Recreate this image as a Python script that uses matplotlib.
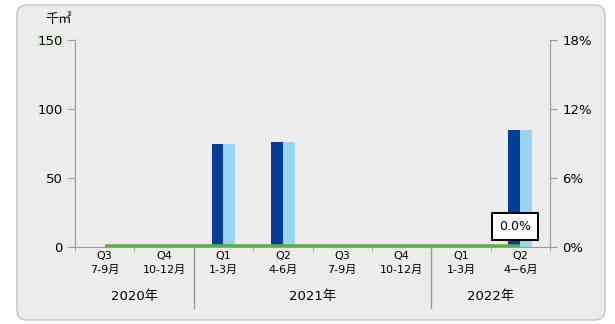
import matplotlib
matplotlib.use("Agg")
from matplotlib import pyplot as plt
from matplotlib.patches import FancyBboxPatch
import matplotlib.transforms as mtransforms
import numpy as np

plt.rcParams['font.family'] = ['DejaVu Sans', 'Noto Sans CJK JP']

# data
quarters = ["Q3\n7-9月", "Q4\n10-12月", "Q1\n1-3月", "Q2\n4-6月",
            "Q3\n7-9月", "Q4\n10-12月", "Q1\n1-3月", "Q2\n4\u22126月"]
years = ["2020年", "2021年", "2022年"]
year_centers = [0.5, 3.5, 6.5]
year_breaks = [1.5, 5.5]
series_a = [0, 0, 75, 76, 0, 0, 0, 85]
series_b = [0, 0, 75, 76, 0, 0, 0, 85]
rate = [0, 0, 0, 0, 0, 0, 0, 0]

dark = '#003e97'
light = '#98d4f1'
green = '#5dab4b'
gray = '#9a9a9a'

fig = plt.figure(figsize=(6.15, 3.24), dpi=100)
fig.patch.set_facecolor('white')
bg = FancyBboxPatch((17 / 615, 4 / 324), 588 / 615, 315 / 324,
                    boxstyle="round,pad=0,rounding_size=0.016",
                    transform=fig.transFigure, facecolor='#ececec',
                    edgecolor='#c4c4c4', linewidth=1.0, mutation_aspect=615 / 324,
                    zorder=-10)
fig.patches.append(bg)

ax = fig.add_axes([75 / 615, 1 - 247 / 324, 475 / 615, 207 / 324])
ax.set_facecolor('none')
x = np.arange(len(quarters))
ax.bar(x - 0.1, series_a, width=0.2, color=dark)
ax.bar(x + 0.1, series_b, width=0.2, color=light)
ax.set_xlim(-0.5, 7.5)
ax.set_ylim(0, 150)
ax.set_yticks([0, 50, 100, 150])
ax.set_xticks(x)
ax.set_xticklabels(quarters, fontsize=8, linespacing=1.5)
ax.set_xticks(np.arange(-0.5, 8, 1), minor=True)
ax.tick_params(axis='x', which='major', length=0, pad=3)
ax.tick_params(axis='x', which='minor', length=3, color=gray)
ax.tick_params(axis='y', labelsize=9.5, length=5, color=gray, pad=4)
for s in ['top', 'right']:
    ax.spines[s].set_visible(False)
for s in ['left', 'bottom']:
    ax.spines[s].set_color(gray)
ax.get_yticklabels()[-1].set_bbox(dict(facecolor='#e3efdc', edgecolor='none', pad=1))

ax2 = ax.twinx()
ax2.plot(x, rate, color=green, linewidth=4, solid_capstyle='butt')
ax2.set_ylim(0, 18)
ax2.set_yticks([0, 6, 12, 18])
ax2.set_yticklabels([f"{v}%" for v in [0, 6, 12, 18]])
ax2.tick_params(axis='y', labelsize=9.5, length=5, color=gray, pad=4)
for s in ['top', 'left', 'bottom']:
    ax2.spines[s].set_visible(False)
ax2.spines['right'].set_color(gray)
ax2.annotate(f"{rate[-1]:.1f}%", (x[-1], rate[-1]), xytext=(-4, 15),
             textcoords='offset points', ha='center', va='center', fontsize=9,
             bbox=dict(boxstyle='square,pad=0.55', facecolor='white', edgecolor='black', linewidth=1.4))

trans = mtransforms.blended_transform_factory(ax.transData, ax.transAxes)
for b in year_breaks:
    ax.plot([b, b], [0, -0.295], transform=trans, color=gray, linewidth=1, clip_on=False)
for xc, yr in zip(year_centers, years):
    ax.text(xc, -0.24, yr, transform=trans, ha='center', va='center', fontsize=9.5)

fig.text(45 / 615, 1 - 20 / 324, "千㎡", fontsize=9.5, ha='left', va='center')

fig.savefig("out.png", dpi=100)
